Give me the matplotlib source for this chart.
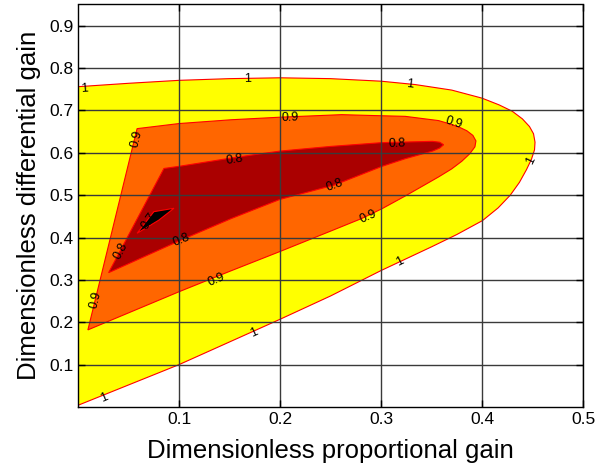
import matplotlib
matplotlib.use("Agg")
import matplotlib.pyplot as plt

plt.rcParams['font.family'] = ['Liberation Sans', 'DejaVu Sans']

# ---- data: contour boundaries (Kp, Kd) ----
levels = [1.0, 0.9, 0.8, 0.7]
level_colors = ['#FFFF00', '#FF6600', '#AA0000', '#000000']

x_lev1 = [0.0, 0.1, 0.2, 0.25, 0.3, 0.35, 0.375, 0.4005, 0.416, 0.428, 0.437, 0.444,
          0.449, 0.452, 0.4525, 0.451, 0.447, 0.44, 0.43, 0.417, 0.4, 0.37, 0.334,
          0.3, 0.25, 0.2, 0.15, 0.1, 0.05, 0.0]
y_lev1 = [0.004, 0.1, 0.207, 0.262, 0.322, 0.378, 0.407, 0.440, 0.47, 0.5, 0.53, 0.56,
          0.585, 0.607, 0.625, 0.645, 0.662, 0.68, 0.698, 0.713, 0.729, 0.748, 0.761,
          0.769, 0.775, 0.777, 0.775, 0.771, 0.764, 0.756]

x_lev09 = [0.0098, 0.1, 0.15, 0.2, 0.25, 0.281, 0.301, 0.324, 0.357, 0.370, 0.38,
           0.388, 0.393, 0.394, 0.391, 0.385, 0.377, 0.367, 0.357, 0.324, 0.291,
           0.261, 0.2, 0.152, 0.1, 0.0585]
y_lev09 = [0.182, 0.272, 0.32, 0.367, 0.415, 0.445, 0.468, 0.498, 0.543, 0.562, 0.58,
           0.598, 0.614, 0.628, 0.641, 0.652, 0.661, 0.669, 0.676, 0.686, 0.688,
           0.690, 0.684, 0.678, 0.669, 0.657]

x_lev08 = [0.0303, 0.102, 0.152, 0.2, 0.254, 0.301, 0.324, 0.351, 0.358, 0.362, 0.358,
           0.351, 0.301, 0.25, 0.2, 0.158, 0.1, 0.0851]
y_lev08 = [0.317, 0.394, 0.445, 0.49, 0.524, 0.568, 0.586, 0.604, 0.611, 0.619, 0.625,
           0.627, 0.624, 0.615, 0.604, 0.590, 0.568, 0.563]

x_lev07 = [0.0585, 0.0751, 0.095, 0.080]
y_lev07 = [0.41, 0.461, 0.469, 0.441]

# contour labels: (x, y, text, rotation)
label_x = [0.0065, 0.1677, 0.3289, 0.4483, 0.3189, 0.1746, 0.0254,
           0.2104, 0.3716, 0.0585, 0.0171, 0.1365, 0.2878,
           0.155, 0.316, 0.2542, 0.1027, 0.042, 0.0701]
label_y = [0.752, 0.775, 0.761, 0.582, 0.342, 0.175, 0.022,
           0.684, 0.671, 0.633, 0.253, 0.300, 0.449,
           0.583, 0.622, 0.5235, 0.394, 0.369, 0.439]
label_txt = ['1', '1', '1', '1', '1', '1', '1',
             '0.9', '0.9', '0.9', '0.9', '0.9', '0.9',
             '0.8', '0.8', '0.8', '0.8', '0.8', '0.7']
label_rot = [4, 1, -6, 64, 27, 25, 23,
             2, -18, 76, 76, 23, 24,
             9, 2, 20, 22, 62, 55]

xticks = [0.1, 0.2, 0.3, 0.4, 0.5]
yticks = [0.1, 0.2, 0.3, 0.4, 0.5, 0.6, 0.7, 0.8, 0.9]

fig = plt.figure(figsize=(6.11, 4.70), dpi=100)
ax = fig.add_axes([78 / 611, 63 / 470, 505 / 611, 402.5 / 470])

polys = [(x_lev1, y_lev1), (x_lev09, y_lev09), (x_lev08, y_lev08), (x_lev07, y_lev07)]
for (px, py), col in zip(polys, level_colors):
    ax.fill(px, py, facecolor=col, edgecolor='#FF0000', linewidth=0.8, zorder=1)

for x, y, t, r in zip(label_x, label_y, label_txt, label_rot):
    ax.text(x, y, t, rotation=r, ha='center', va='center', fontsize=9,
            color='black', rotation_mode='anchor', zorder=3)

ax.set_xlim(0, 0.5)
ax.set_ylim(0, 0.95)
ax.set_xticks(xticks)
ax.set_yticks(yticks)
ax.set_xticklabels([f"{v:g}" for v in xticks])
ax.set_yticklabels([f"{v:g}" for v in yticks])
ax.grid(True, color='#3a3a3a', linewidth=1.0, linestyle='-')
ax.set_axisbelow(False)
ax.tick_params(direction='in', length=5, top=True, right=True, labelsize=12.5, width=1)
for s in ax.spines.values():
    s.set_linewidth(1.0)
    s.set_color('black')
    s.set_zorder(4)

ax.set_xlabel('Dimensionless proportional gain', fontsize=18.5, labelpad=9)
ax.set_ylabel('Dimensionless differential gain', fontsize=18.5, labelpad=6)

fig.savefig('out.png', dpi=100)
